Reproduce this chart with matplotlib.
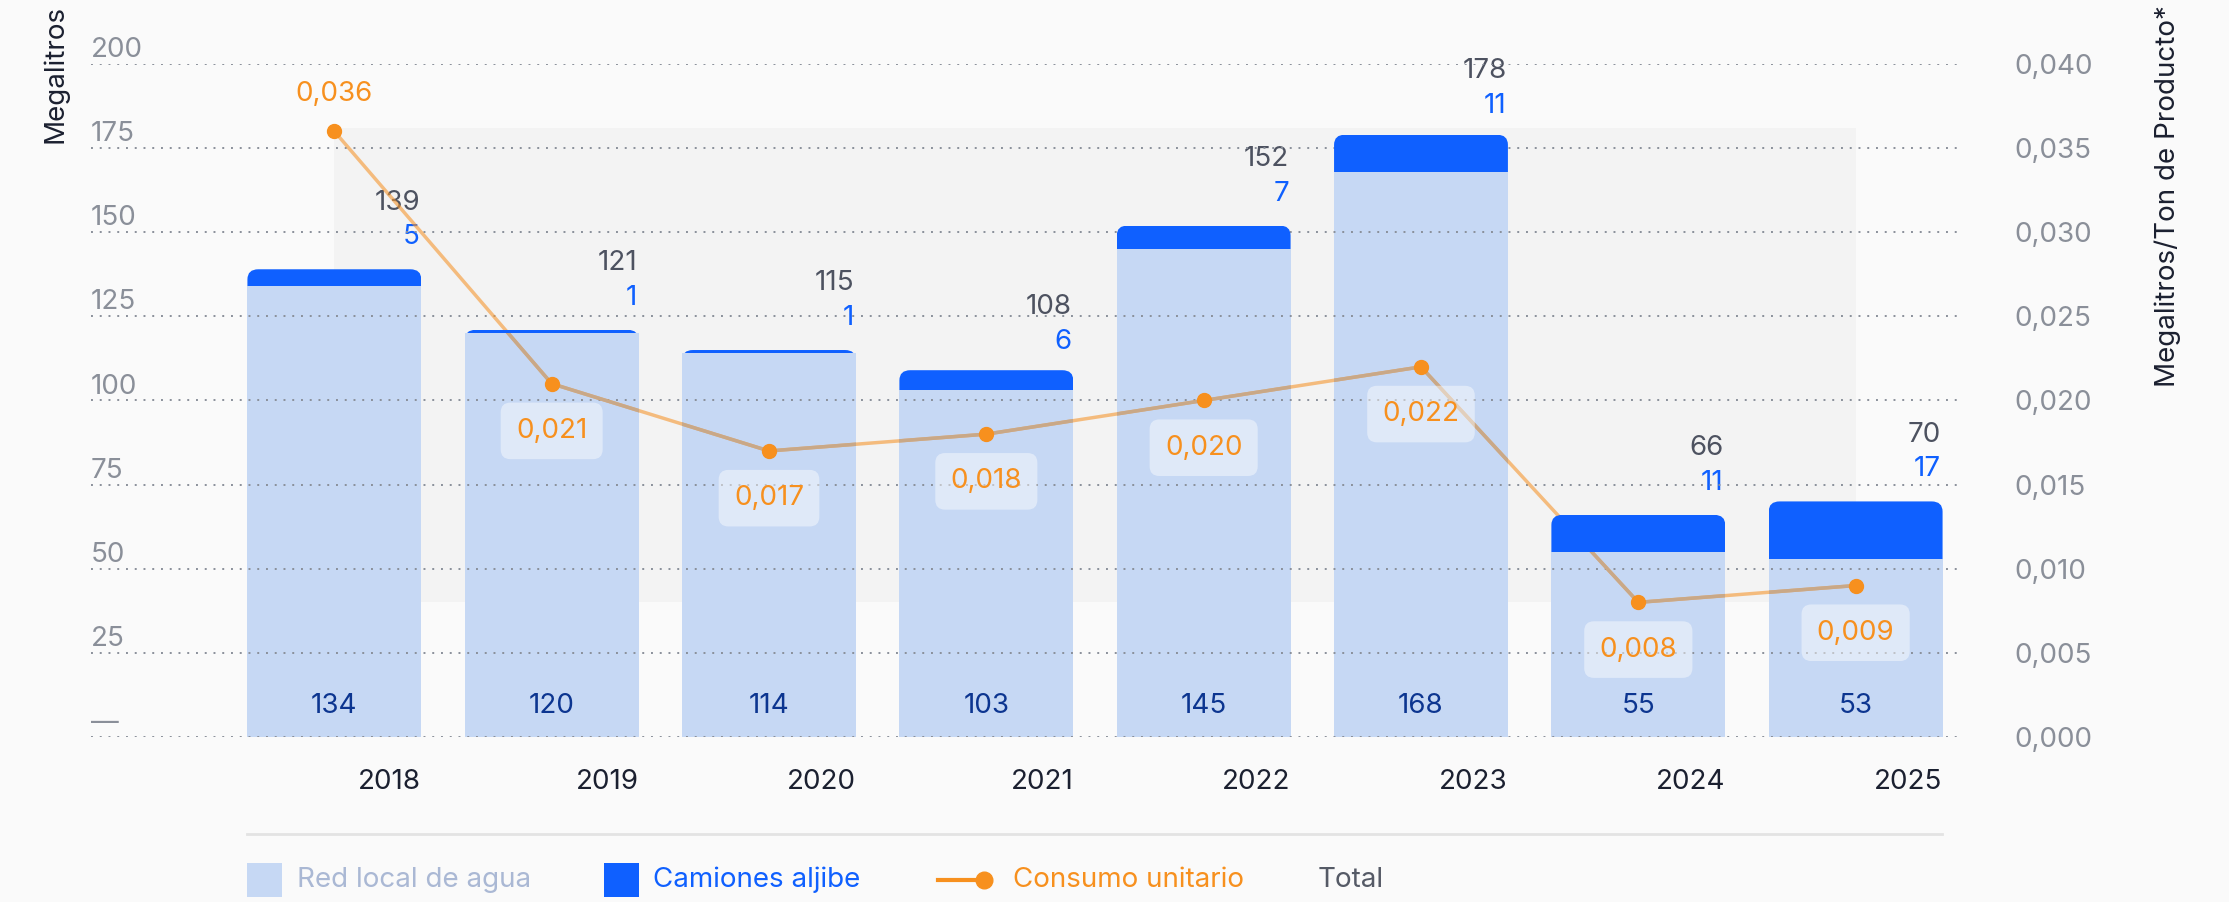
import numpy as np
import matplotlib.pyplot as plt
from matplotlib.patches import FancyBboxPatch, Rectangle
from matplotlib.lines import Line2D

plt.rcParams['font.family'] = ['Inter', 'DejaVu Sans']

# --- datos ---
years = ['2018', '2019', '2020', '2021', '2022', '2023', '2024', '2025']
red_local = [134, 120, 114, 103, 145, 168, 55, 53]
camiones = [5, 1, 1, 6, 7, 11, 11, 17]
totales = [139, 121, 115, 108, 152, 178, 66, 70]
consumo = [0.036, 0.021, 0.017, 0.018, 0.020, 0.022, 0.008, 0.009]

ticks_ml = [0, 25, 50, 75, 100, 125, 150, 175, 200]
ticks_cu = [0.0, 0.005, 0.010, 0.015, 0.020, 0.025, 0.030, 0.035, 0.040]

# colores
C_RED = '#c6d8f4'
C_CAM = '#0f60ff'
C_CONS = '#f7901e'
C_GRID = '#8a909a'
C_TICK = '#8a8f99'
C_DARK = '#1b2030'
C_TOTAL = '#4d5260'
C_NAVY = '#0c3590'
FS = 20

fig = plt.figure(figsize=(22.29, 9.02), dpi=100, facecolor='#fafafa')
ax = fig.add_axes([0.0408, 0.183, 0.8385, 0.746])
ax.set_facecolor('none')
x = np.arange(len(years))
ax.set_xlim(-1.12, 7.48)
ax.set_ylim(0, 200)

# eje derecho (escala del consumo unitario)
ax2 = ax.twinx()
ax2.set_ylim(0, 0.04)

# zona sombreada de fondo
ax.add_patch(Rectangle((0, 40), 7, 141, facecolor='#f3f3f3', edgecolor='none', zorder=0))

# grilla punteada (por encima de las barras claras)
ax.set_yticks(ticks_ml)
ax.yaxis.grid(True, color=C_GRID, lw=1.4, linestyle=(0, (1, 3.5)))
ax.yaxis.set_zorder(3.2)
ax.tick_params(axis='y', length=0, labelleft=False)
for s in ax.spines.values():
    s.set_visible(False)

# etiquetas eje izquierdo (sobre la linea)
for t in ticks_ml:
    lab = '—' if t == 0 else str(t)
    ax.annotate(lab, (0, t), xycoords=('axes fraction', 'data'), xytext=(0, 5),
                textcoords='offset points', ha='left', va='baseline',
                fontsize=FS, color=C_TICK)

# barras apiladas
W = 0.8
b_red = ax.bar(x, red_local, width=W, color=C_RED, zorder=3)
b_cam = ax.bar(x, camiones, bottom=red_local, width=W, color=C_CAM, zorder=4)
# esquinas redondeadas arriba, recortadas al rectangulo de cada barra
for r in b_cam:
    r.set_visible(False)
    ext = 4
    p = FancyBboxPatch((r.get_x(), r.get_y() - ext), r.get_width(), r.get_height() + ext,
                       boxstyle='round,pad=0,rounding_size=0.05', mutation_aspect=60,
                       facecolor=C_CAM, edgecolor='none', zorder=4)
    ax.add_patch(p)
    p.set_clip_path(r)

# linea de consumo: naranja translucida, y tono pardo donde cruza las barras claras
ax.plot(x, consumo, color='#f5962f', alpha=0.6, lw=2.5, zorder=3.5, transform=ax2.transData)
for r in b_red:
    seg, = ax.plot(x, consumo, color='#c9a887', lw=2.5, zorder=3.6, transform=ax2.transData)
    seg.set_clip_path(r)

# valores
for i in range(len(years)):
    right = x[i] + W / 2
    ax.annotate(str(red_local[i]), (x[i], 0), xytext=(0, 22), textcoords='offset points',
                ha='center', va='center', fontsize=FS, color=C_NAVY, zorder=5)
    ax.annotate(str(totales[i]), (right, totales[i]), xytext=(-1, 48), textcoords='offset points',
                ha='right', va='center', fontsize=FS, color=C_TOTAL, annotation_clip=False)
    ax.annotate(str(camiones[i]), (right, totales[i]), xytext=(-1, 23), textcoords='offset points',
                ha='right', va='center', fontsize=FS, color=C_CAM, annotation_clip=False)

# años alineados al borde derecho de la barra
ax.set_xticks(x + W / 2)
ax.set_xticklabels(years, ha='right', fontsize=FS, color=C_DARK)
ax.tick_params(axis='x', length=0, pad=23)

# eje derecho: ticks
ax2.set_yticks(ticks_cu)
ax2.set_yticklabels([f'{t:.3f}'.replace('.', ',') for t in ticks_cu], fontsize=FS, color=C_TICK)
ax2.tick_params(axis='y', length=0, pad=39)
for s in ax2.spines.values():
    s.set_visible(False)

ax2.plot(x, consumo, 'o', color=C_CONS, ms=10, zorder=4)
for i, v in enumerate(consumo):
    above = v == max(consumo)
    off = 27 if above else -34
    bb = None if above else dict(boxstyle='round,pad=0.55,rounding_size=0.35',
                                 fc='white', ec='none', alpha=0.45)
    ax2.annotate(f'{v:.3f}'.replace('.', ','), (x[i], v), xytext=(0, off),
                 textcoords='offset points', ha='center', va='center',
                 fontsize=FS, color=C_CONS, bbox=bb, zorder=6, annotation_clip=False)

# titulos de ejes
fig.text(55 / 2229, 1 - 5 / 902, 'Megalitros', rotation=90, ha='center', va='top',
         fontsize=FS, color=C_DARK)
fig.text(2168 / 2229, 1 - 5 / 902, 'Megalitros/Ton de Producto*', rotation=90, ha='center',
         va='top', fontsize=FS, color=C_DARK)

# leyenda
W_PX, H_PX = 2229, 902
fig.add_artist(Line2D([247 / W_PX, 1942 / W_PX], [1 - 834 / H_PX] * 2,
                      transform=fig.transFigure, color='#e3e3e3', lw=2))
ly = 1 - 880 / H_PX
fig.add_artist(Rectangle((247 / W_PX, 1 - 897 / H_PX), 35 / W_PX, 34 / H_PX,
                         transform=fig.transFigure, facecolor=C_RED, edgecolor='none'))
fig.text(297 / W_PX, ly, 'Red local de agua', ha='left', va='center', fontsize=FS, color='#aab8d4')
fig.add_artist(Rectangle((604 / W_PX, 1 - 897 / H_PX), 35 / W_PX, 34 / H_PX,
                         transform=fig.transFigure, facecolor=C_CAM, edgecolor='none'))
fig.text(653 / W_PX, ly, 'Camiones aljibe', ha='left', va='center', fontsize=FS, color=C_CAM)
fig.add_artist(Line2D([938 / W_PX, 984 / W_PX], [ly, ly], transform=fig.transFigure,
                      color=C_CONS, lw=3))
fig.add_artist(Line2D([984 / W_PX], [ly], transform=fig.transFigure, marker='o',
                      color=C_CONS, ms=12, lw=0))
fig.text(1013 / W_PX, ly, 'Consumo unitario', ha='left', va='center', fontsize=FS, color=C_CONS)
fig.text(1318 / W_PX, ly, 'Total', ha='left', va='center', fontsize=FS, color='#555a66')

fig.savefig('out.png', dpi=100, facecolor=fig.get_facecolor())
